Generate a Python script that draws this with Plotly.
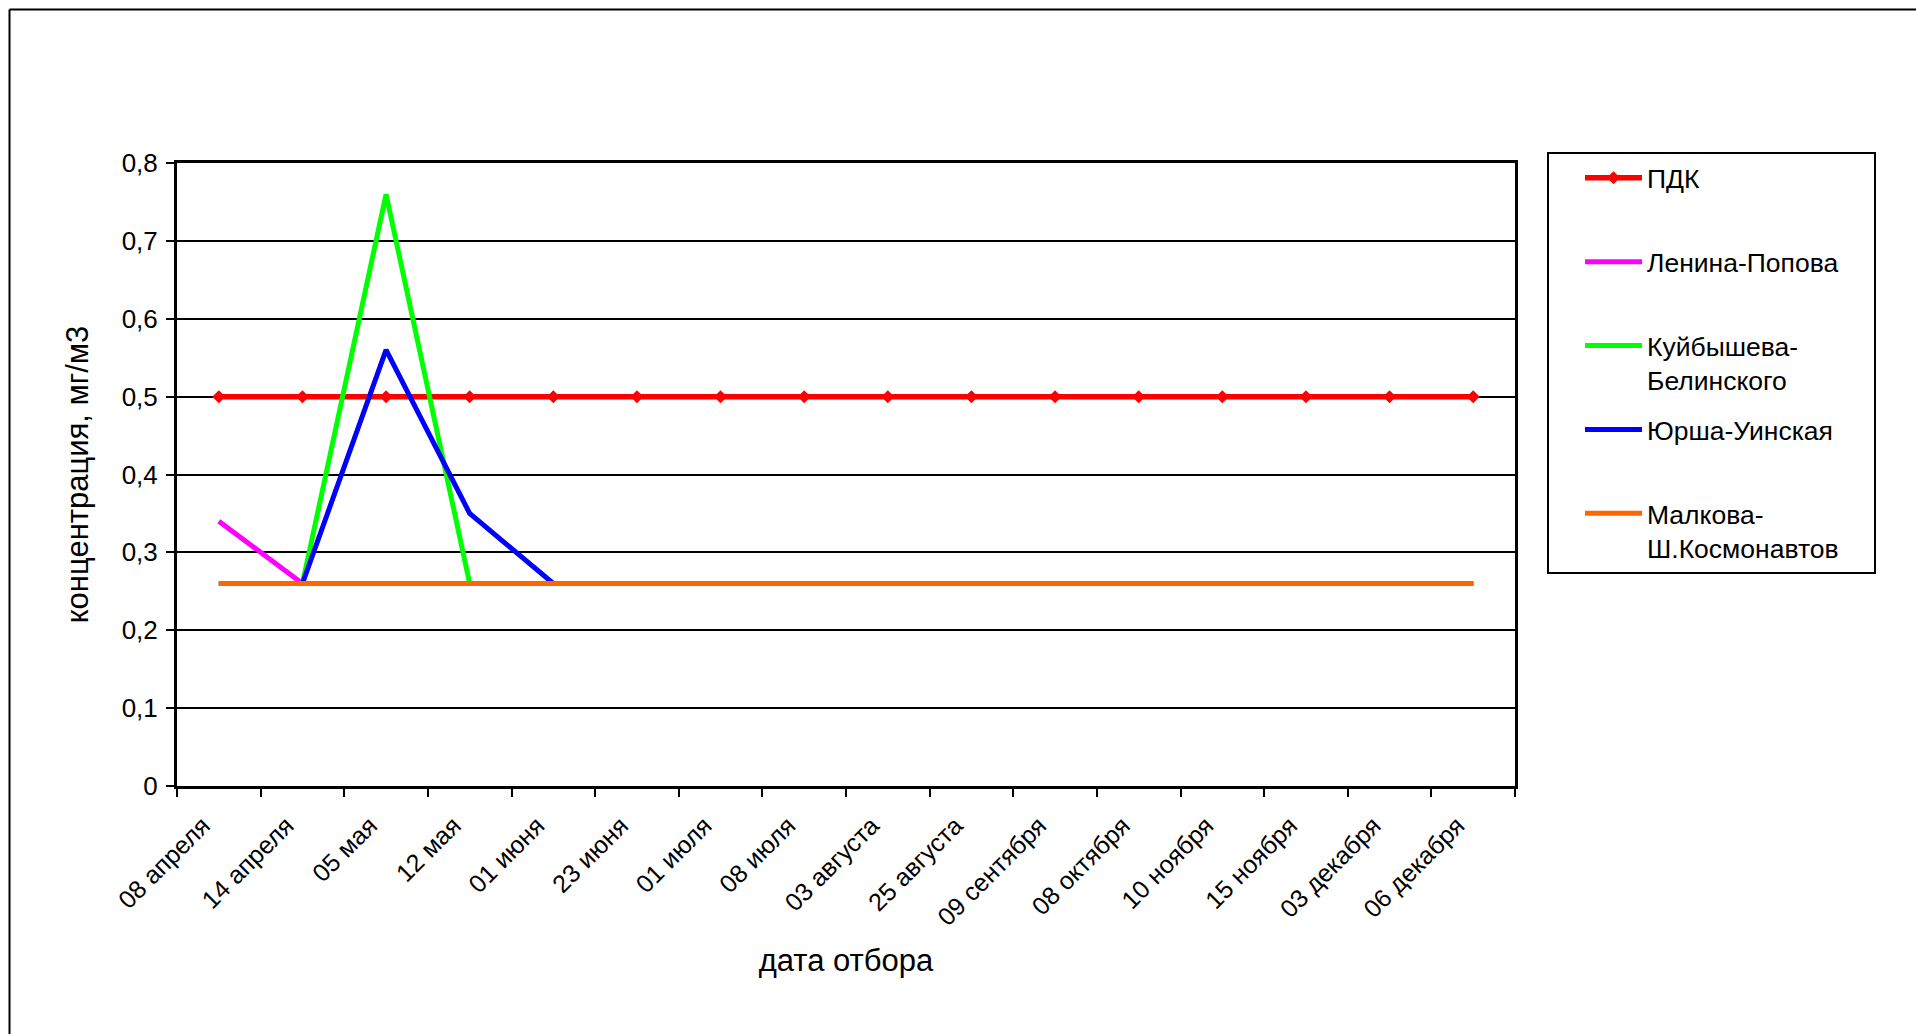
import plotly.graph_objects as go

# Sampling dates (category axis)
dates = ["08 апреля", "14 апреля", "05 мая", "12 мая", "01 июня", "23 июня",
         "01 июля", "08 июля", "03 августа", "25 августа", "09 сентября",
         "08 октября", "10 ноября", "15 ноября", "03 декабря", "06 декабря"]

# Concentrations, mg/m3
pdk = [0.5, 0.5, 0.5, 0.5, 0.5, 0.5, 0.5, 0.5, 0.5, 0.5, 0.5, 0.5, 0.5, 0.5, 0.5, 0.5]
lenina_popova = [0.34, 0.26, 0.26, 0.26, 0.26, 0.26, 0.26, 0.26, 0.26, 0.26, 0.26, 0.26, 0.26, 0.26, 0.26, 0.26]
kuybysheva_belinskogo = [0.26, 0.26, 0.76, 0.26, 0.26, 0.26, 0.26, 0.26, 0.26, 0.26, 0.26, 0.26, 0.26, 0.26, 0.26, 0.26]
yursha_uinskaya = [0.26, 0.26, 0.56, 0.35, 0.26, 0.26, 0.26, 0.26, 0.26, 0.26, 0.26, 0.26, 0.26, 0.26, 0.26, 0.26]
malkova_kosmonavtov = [0.26, 0.26, 0.26, 0.26, 0.26, 0.26, 0.26, 0.26, 0.26, 0.26, 0.26, 0.26, 0.26, 0.26, 0.26, 0.26]

NB = "\u00a0"
PAD = NB * 4  # right padding inside the legend box

series = [
    ("ПДК" + PAD + "<br>" + NB, pdk, "#FF0000", True),
    ("Ленина-Попова" + PAD + "<br>" + NB, lenina_popova, "#FF00FF", False),
    ("Куйбышева-" + PAD + "<br>Белинского" + PAD, kuybysheva_belinskogo, "#00FF00", False),
    ("Юрша-Уинская" + PAD + "<br>" + NB, yursha_uinskaya, "#0000FF", False),
    ("Малкова-" + PAD + "<br>Ш.Космонавтов" + PAD, malkova_kosmonavtov, "#FF6600", False),
]

FONT = "Liberation Sans, Arial, sans-serif"
W, H = 1916, 1034
L, R, T, B = 177, 401, 163, 248
pw, ph = W - L - R, H - T - B

fig = go.Figure()
for i, (name, vals, color, markers) in enumerate(series):
    fig.add_trace(go.Scatter(
        x=dates, y=vals, name=name, legendgroup=f"g{i}",
        mode="lines+markers" if markers else "lines",
        line=dict(color=color, width=5.5 if markers else 5),
        marker=dict(symbol="diamond", size=10, color=color) if markers else None,
    ))

def px_x(x):
    return (x - L) / pw

def px_y(y):
    return (H - B - y) / ph

fig.update_layout(
    width=W, height=H,
    margin=dict(l=L, r=R, t=T, b=B),
    paper_bgcolor="white", plot_bgcolor="white",
    separators=", ",
    font=dict(family=FONT, color="black", size=26),
    showlegend=True,
    legend=dict(
        x=px_x(1547), y=px_y(152), xanchor="left", yanchor="top",
        bordercolor="black", borderwidth=2, bgcolor="white",
        font=dict(size=26.5, family=FONT, color="black"),
        valign="top", tracegroupgap=12, itemwidth=57, indentation=31,
    ),
    xaxis=dict(
        type="category", range=[-0.5, 15.5],
        tickangle=-45, tickson="boundaries",
        ticks="outside", ticklen=8, tickwidth=2, tickcolor="black",
        ticklabelstandoff=12, ticklabelshift=-16,
        showline=True, linecolor="black", linewidth=3, mirror=True,
        showgrid=False, zeroline=False,
        tickfont=dict(size=25, family=FONT),
        title=dict(text="дата отбора", font=dict(size=31, family=FONT), standoff=20),
    ),
    yaxis=dict(
        range=[0, 0.8], dtick=0.1,
        ticks="outside", ticklen=8, tickwidth=2, tickcolor="black",
        ticklabelstandoff=3,
        showline=True, linecolor="black", linewidth=3, mirror=True,
        showgrid=True, gridcolor="black", gridwidth=2, zeroline=False,
        tickfont=dict(size=26, family=FONT),
        title=dict(text="концентрация, мг/м3", font=dict(size=31, family=FONT), standoff=24),
    ),
    shapes=[
        dict(type="line", xref="paper", yref="paper",
             x0=px_x(9.5), x1=px_x(W + 5), y0=px_y(9.5), y1=px_y(9.5),
             line=dict(color="black", width=2)),
        dict(type="line", xref="paper", yref="paper",
             x0=px_x(9.5), x1=px_x(9.5), y0=px_y(9.5), y1=px_y(H + 5),
             line=dict(color="black", width=2)),
    ],
)

fig.write_html("out.html")
